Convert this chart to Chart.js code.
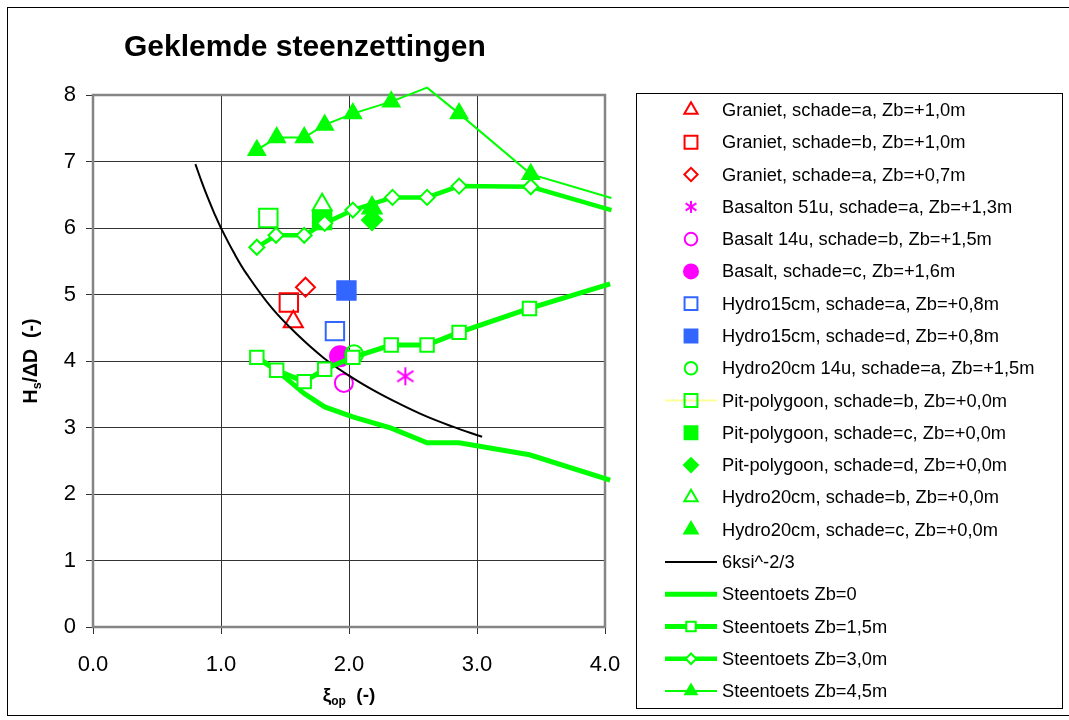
<!DOCTYPE html>
<html>
<head>
<meta charset="utf-8">
<title>Geklemde steenzettingen</title>
<script src="https://cdn.jsdelivr.net/npm/chart.js@4.4.1/dist/chart.umd.min.js"></script>
<style>
  html, body { margin: 0; padding: 0; background: #fff; }
  #wrap { width: 1069px; height: 720px; }
</style>
</head>
<body>
<div id="wrap"><canvas id="steenChart" width="1069" height="720"></canvas></div>
<script>
// Meetpunten per serie (xi_op, Hs/dD)
const granietAX = [1.565], granietAY = [4.59];
const granietBX = [1.53], granietBY = [4.88];
const graniet07X = [1.66], graniet07Y = [5.11];
const basalton51X = [2.44], basalton51Y = [3.77];
const basalt14X = [1.96], basalt14Y = [3.67];
const basaltCX = [1.93], basaltCY = [4.07];
const hydro15AX = [1.89], hydro15AY = [4.45];
const hydro15DX = [1.98], hydro15DY = [5.06];
const hydro20uX = [2.04], hydro20uY = [4.10];
const pitBX = [1.37], pitBY = [6.15];
const pitCX = [1.79], pitCY = [6.12];
const pitDX = [2.18], pitDY = [6.12];
const hydro20BX = [1.79], hydro20BY = [6.35];
const hydro20CX = [2.18], hydro20CY = [6.30];

// 6 ksi^-2/3 curve
const ksiX = [0.80, 0.85, 0.90, 0.95, 1.00, 1.10, 1.20, 1.40, 1.60, 1.80, 2.00, 2.20, 2.40, 2.60, 2.80, 3.04];
const ksiY = [6.96, 6.69, 6.44, 6.21, 6.00, 5.63, 5.31, 4.79, 4.39, 4.05, 3.78, 3.55, 3.35, 3.17, 3.02, 2.86];

// Steentoets berekeningen
const zb0X = [1.28, 1.435, 1.65, 1.81, 2.03, 2.33, 2.61, 2.86, 3.41, 4.04];
const zb0Y = [4.055, 3.86, 3.51, 3.31, 3.16, 2.99, 2.77, 2.77, 2.59, 2.21];
const zb15X = [1.28, 1.435, 1.65, 1.81, 2.03, 2.33, 2.61, 2.86, 3.41, 4.04];
const zb15Y = [4.055, 3.86, 3.69, 3.875, 4.055, 4.24, 4.24, 4.43, 4.79, 5.16];
const zb30X = [1.28, 1.43, 1.65, 1.81, 2.03, 2.34, 2.61, 2.86, 3.42, 4.05];
const zb30Y = [5.71, 5.89, 5.89, 6.07, 6.27, 6.46, 6.46, 6.63, 6.62, 6.27];
const zb45X = [1.28, 1.435, 1.65, 1.81, 2.03, 2.33, 2.61, 2.86, 3.42, 4.05];
const zb45Y = [7.17, 7.36, 7.36, 7.55, 7.72, 7.90, 8.11, 7.72, 6.81, 6.45];

const seriesLabels = [
    'Graniet, schade=a, Zb=+1,0m',
    'Graniet, schade=b, Zb=+1,0m',
    'Graniet, schade=a, Zb=+0,7m',
    'Basalton 51u, schade=a, Zb=+1,3m',
    'Basalt 14u, schade=b, Zb=+1,5m',
    'Basalt, schade=c, Zb=+1,6m',
    'Hydro15cm, schade=a, Zb=+0,8m',
    'Hydro15cm, schade=d, Zb=+0,8m',
    'Hydro20cm 14u, schade=a, Zb=+1,5m',
    'Pit-polygoon, schade=b, Zb=+0,0m',
    'Pit-polygoon, schade=c, Zb=+0,0m',
    'Pit-polygoon, schade=d, Zb=+0,0m',
    'Hydro20cm, schade=b, Zb=+0,0m',
    'Hydro20cm, schade=c, Zb=+0,0m',
    '6ksi^-2/3',
    'Steentoets Zb=0',
    'Steentoets Zb=1,5m',
    'Steentoets Zb=3,0m',
    'Steentoets Zb=4,5m'
];

const xTicks = [0, 1, 2, 3, 4];
const yTicks = [0, 1, 2, 3, 4, 5, 6, 7, 8];

const RED = '#ff0000', MAGENTA = '#ff00ff', BLUE = '#3366ff', GREEN = '#00ff00';
const FONT = "'Liberation Sans', Arial, sans-serif";

function pts(xs, ys) {
    return xs.map((x, i) => ({ x: x, y: ys[i] }));
}

// 6-armige asterisk als marker
function makeAsterisk(size, color, lw) {
    const c = document.createElement('canvas');
    c.width = size; c.height = size;
    const g = c.getContext('2d');
    g.strokeStyle = color;
    g.lineWidth = lw;
    const m = size / 2, r = size / 2 - 1;
    g.beginPath();
    g.moveTo(m, m - r); g.lineTo(m, m + r);
    g.moveTo(m - r * 0.9, m - r * 0.6); g.lineTo(m + r * 0.9, m + r * 0.6);
    g.moveTo(m - r * 0.9, m + r * 0.6); g.lineTo(m + r * 0.9, m - r * 0.6);
    g.stroke();
    return c;
}

function marker(label, xs, ys, style, color, radius, filled) {
    return {
        label: label,
        data: pts(xs, ys),
        showLine: false,
        pointStyle: style,
        pointRadius: radius,
        pointBorderColor: color,
        pointBackgroundColor: filled ? color : 'rgba(0,0,0,0)',
        pointBorderWidth: 2,
        borderColor: color,
        backgroundColor: color
    };
}

function curve(label, xs, ys, width, style, radius, fill) {
    return {
        label: label,
        data: pts(xs, ys),
        showLine: true,
        borderColor: label === '6ksi^-2/3' ? '#000000' : GREEN,
        borderWidth: width,
        pointStyle: style || 'circle',
        legendRadius: radius,
        // markers buiten het plotvlak worden niet getekend
        pointRadius: style ? (c => (c.raw && (c.raw.y > 8 || c.raw.x > 4) ? 0 : radius)) : 0,
        pointBorderColor: GREEN,
        pointBackgroundColor: fill,
        pointBorderWidth: 2,
        tension: label === '6ksi^-2/3' ? 0.4 : 0,
        clip: false
    };
}

const asteriskBig = makeAsterisk(20, MAGENTA, 2);
const asteriskSmall = makeAsterisk(14, MAGENTA, 2);

const datasets = [
    marker(seriesLabels[0], granietAX, granietAY, 'triangle', RED, 11, false),
    marker(seriesLabels[1], granietBX, granietBY, 'rect', RED, 13, false),
    marker(seriesLabels[2], graniet07X, graniet07Y, 'rectRot', RED, 9.5, false),
    marker(seriesLabels[3], basalton51X, basalton51Y, asteriskBig, MAGENTA, 10, false),
    marker(seriesLabels[4], basalt14X, basalt14Y, 'circle', MAGENTA, 9, false),
    marker(seriesLabels[5], basaltCX, basaltCY, 'circle', MAGENTA, 10, true),
    marker(seriesLabels[6], hydro15AX, hydro15AY, 'rect', BLUE, 13, false),
    marker(seriesLabels[7], hydro15DX, hydro15DY, 'rect', BLUE, 13, true),
    marker(seriesLabels[8], hydro20uX, hydro20uY, 'circle', GREEN, 9, false),
    marker(seriesLabels[9], pitBX, pitBY, 'rect', GREEN, 13, false),
    marker(seriesLabels[10], pitCX, pitCY, 'rect', GREEN, 13, true),
    marker(seriesLabels[11], pitDX, pitDY, 'rectRot', GREEN, 10, true),
    marker(seriesLabels[12], hydro20BX, hydro20BY, 'triangle', GREEN, 11, false),
    marker(seriesLabels[13], hydro20CX, hydro20CY, 'triangle', GREEN, 11, true),
    curve(seriesLabels[14], ksiX, ksiY, 2, null, 0, null),
    curve(seriesLabels[15], zb0X, zb0Y, 5, null, 0, null),
    curve(seriesLabels[16], zb15X, zb15Y, 5, 'rect', 9.5, '#ffffff'),
    curve(seriesLabels[17], zb30X, zb30Y, 4.5, 'rectRot', 7.5, '#ffffff'),
    curve(seriesLabels[18], zb45X, zb45Y, 2, 'triangle', 9.5, GREEN)
];
// pit-polygoon b heeft een lichtgele lijn in de legenda
datasets[9].borderColor = '#ffff99';
datasets[9].borderWidth = 2;
datasets[9].legendLine = true;
datasets[3].legendStyle = asteriskSmall;

// later series liggen bovenop
datasets.forEach((d, i) => { d.order = datasets.length - i; });

// kader, titels en legenda
const decorPlugin = {
    id: 'decor',
    beforeDatasetsDraw(chart) {
        const ctx = chart.ctx, a = chart.chartArea;
        ctx.save();
        ctx.strokeStyle = '#858585';
        ctx.lineWidth = 2.5;
        ctx.strokeRect(a.left, a.top, a.right - a.left, a.bottom - a.top);
        ctx.restore();
    },
    afterDraw(chart) {
        const ctx = chart.ctx, a = chart.chartArea;
        ctx.save();

        // buitenrand
        ctx.strokeStyle = '#000';
        ctx.lineWidth = 1;
        ctx.strokeRect(7.5, 7.5, 1070, 708);

        // titel
        ctx.fillStyle = '#000';
        ctx.textBaseline = 'alphabetic';
        ctx.textAlign = 'left';
        ctx.font = 'bold 30px ' + FONT;
        ctx.fillText('Geklemde steenzettingen', 124, 56);

        // y-as titel Hs/ΔD (-)
        let big = 'bold 19.5px ' + FONT, small = 'bold 12.5px ' + FONT;
        ctx.save();
        ctx.translate(37, (a.top + a.bottom) / 2);
        ctx.rotate(-Math.PI / 2);
        ctx.font = big; const w1 = ctx.measureText('H').width;
        ctx.font = small; const w2 = ctx.measureText('s').width;
        ctx.font = big; const w3 = ctx.measureText('/ΔD  (-)').width;
        let sx = -(w1 + w2 + w3) / 2;
        ctx.font = big; ctx.fillText('H', sx, 0);
        ctx.font = small; ctx.fillText('s', sx + w1, 4);
        ctx.font = big; ctx.fillText('/ΔD  (-)', sx + w1 + w2, 0);
        ctx.restore();

        // x-as titel ξop (-)
        big = 'bold 19px ' + FONT; small = 'bold 12px ' + FONT;
        ctx.font = big; const v1 = ctx.measureText('ξ').width;
        ctx.font = small; const v2 = ctx.measureText('op').width;
        ctx.font = big; const v3 = ctx.measureText('  (-)').width;
        let tx = (a.left + a.right) / 2 - (v1 + v2 + v3) / 2;
        const ty = 701;
        ctx.font = big; ctx.fillText('ξ', tx, ty);
        ctx.font = small; ctx.fillText('op', tx + v1, ty + 4);
        ctx.font = big; ctx.fillText('  (-)', tx + v1 + v2, ty);

        // legenda
        ctx.strokeStyle = '#000';
        ctx.lineWidth = 1;
        ctx.strokeRect(636.5, 93.5, 426, 615);
        ctx.font = '18.3px ' + FONT;
        ctx.textBaseline = 'middle';
        chart.data.datasets.forEach((d, i) => {
            const y = 110 + i * 32.28;
            if (d.showLine || d.legendLine) {
                ctx.strokeStyle = d.borderColor;
                ctx.lineWidth = d.borderWidth;
                ctx.beginPath();
                ctx.moveTo(665, y);
                ctx.lineTo(717, y);
                ctx.stroke();
            }
            const r = typeof d.pointRadius === 'function' ? d.legendRadius : d.pointRadius;
            if (d.pointStyle && r > 0) {
                ctx.fillStyle = d.pointBackgroundColor;
                ctx.strokeStyle = d.pointBorderColor;
                ctx.lineWidth = 2;
                Chart.helpers.drawPoint(ctx, {
                    pointStyle: d.legendStyle || d.pointStyle,
                    radius: r * 0.7,
                    rotation: 0,
                    borderWidth: 2
                }, 691, y);
            }
            ctx.fillStyle = '#000';
            ctx.fillText(d.label, 722, y + 1);
        });
        ctx.restore();
    }
};

const ctxSteen = document.getElementById('steenChart').getContext('2d');
const steenChart = new Chart(ctxSteen, {
    type: 'scatter',
    data: { datasets: datasets },
    options: {
        responsive: false,
        animation: false,
        events: [],
        layout: { padding: { top: 95, right: 464, bottom: 0, left: 0 } },
        plugins: {
            legend: { display: false },
            tooltip: { enabled: false },
            title: { display: false }
        },
        scales: {
            x: {
                type: 'linear',
                min: 0,
                max: 4,
                afterFit: s => { s.height = 93; },
                afterBuildTicks: s => { s.ticks = xTicks.map(v => ({ value: v })); },
                ticks: {
                    color: '#000',
                    padding: 18,
                    font: { family: FONT, size: 22 },
                    callback: v => v.toFixed(1)
                },
                grid: { color: '#333', lineWidth: 1, tickLength: 7 },
                border: { display: false }
            },
            y: {
                type: 'linear',
                min: 0,
                max: 8,
                afterFit: s => { s.width = 93; },
                afterBuildTicks: s => { s.ticks = yTicks.map(v => ({ value: v })); },
                ticks: {
                    color: '#000',
                    padding: 10,
                    font: { family: FONT, size: 22 },
                    callback: v => String(v)
                },
                grid: { color: '#333', lineWidth: 1, tickLength: 7 },
                border: { display: false }
            }
        }
    },
    plugins: [decorPlugin]
});
</script>
</body>
</html>
